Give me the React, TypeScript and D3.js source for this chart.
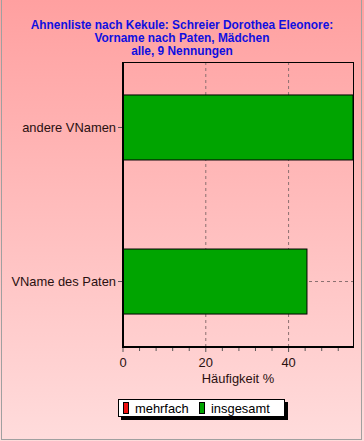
import React from "react";
import * as d3 from "d3";

const categories = ["andere VNamen", "VName des Paten"];
const insgesamt = [55.56, 44.44];
const mehrfach = [0, 0];
const majorTicks = [0, 20, 40];
const minorTicks = [4, 8, 12, 16, 24, 28, 32, 36, 44, 48, 52];
const titleLines = [
  "Ahnenliste nach Kekule: Schreier Dorothea Eleonore:",
  "Vorname nach Paten, Mädchen",
  "alle, 9 Nennungen",
];
const legendItems = [
  { label: "mehrfach", color: "#EE1111" },
  { label: "insgesamt", color: "#00A400" },
];

const W = 364;
const H = 441;
const L = 123, R = 353, T = 62, B = 347;

export default function App() {
  const x = d3.scaleLinear().domain([0, 55.56]).range([L, R]);
  const y = d3.scalePoint<string>().domain(categories).range([T, B]).padding(0.425);
  const barH = y.step() * 0.422;
  const font = "Arial, 'Liberation Sans', sans-serif";
  void mehrfach;
  return (
    <svg width={W} height={H} style={{ position: "absolute", left: 0, top: 0 }} fontFamily={font}>
      <defs>
        <linearGradient id="bg" x1="0" y1="0" x2="0" y2="1">
          <stop offset="0" stopColor="#FFA0A0" />
          <stop offset="1" stopColor="#FFDCDC" />
        </linearGradient>
      </defs>
      <rect x={0} y={0} width={W} height={H} fill="url(#bg)" />
      <line x1={1.5} x2={1.5} y1={0} y2={440} stroke="#A0A0A0" />
      <line x1={361.5} x2={361.5} y1={0} y2={440} stroke="#A0A0A0" />
      <line x1={1} x2={362} y1={439.5} y2={439.5} stroke="#A0A0A0" />

      {titleLines.map((t, i) => (
        <text key={i} x={182} y={28.5 + i * 13.2} textAnchor="middle" fontWeight="bold" fontSize={11.9} fill="#1010E0">
          {t}
        </text>
      ))}

      {/* grid */}
      {majorTicks.filter((v) => v > 0).map((v) => (
        <line key={v} x1={x(v)} x2={x(v)} y1={T} y2={B} stroke="#8A7070" strokeDasharray="3,3" />
      ))}
      {categories.map((c) => (
        <line key={c} x1={L} x2={R} y1={y(c)!} y2={y(c)!} stroke="#8A7070" strokeDasharray="3,3" />
      ))}

      {/* bars */}
      {categories.map((c, i) => (
        <rect key={c} x={x(0)} y={y(c)! - barH / 2} width={x(insgesamt[i]) - x(0)} height={barH}
          fill="#00A400" stroke="#000" strokeWidth={1} />
      ))}

      {/* frame */}
      <line x1={L} x2={R} y1={T + 0.5} y2={T + 0.5} stroke="#000" />
      <line x1={R + 0.5} x2={R + 0.5} y1={T} y2={B} stroke="#000" />
      <line x1={L} x2={L} y1={T} y2={B + 1} stroke="#000" strokeWidth={2} />
      <line x1={L - 1} x2={R + 1} y1={B} y2={B} stroke="#000" strokeWidth={2} />

      {/* y ticks and labels */}
      {categories.map((c) => (
        <g key={c}>
          <line x1={L - 5} x2={L - 1} y1={y(c)!} y2={y(c)!} stroke="#555" />
          <text x={L - 7} y={y(c)!} dy="0.35em" textAnchor="end" fontSize={12.9} fill="#2A1010">{c}</text>
        </g>
      ))}

      {/* x ticks */}
      {minorTicks.map((v) => (
        <line key={v} x1={x(v)} x2={x(v)} y1={B + 1} y2={B + 4} stroke="#555" />
      ))}
      {majorTicks.map((v) => (
        <g key={v}>
          <line x1={x(v)} x2={x(v)} y1={B + 1} y2={B + 5} stroke="#555" />
          <text x={x(v)} y={B + 20} textAnchor="middle" fontSize={12.9} fill="#2A1010">{v}</text>
        </g>
      ))}
      <text x={(L + R) / 2} y={382.5} textAnchor="middle" fontSize={12.9} fill="#2A1010">Häufigkeit %</text>

      {/* legend */}
      <rect x={121} y={402} width={167} height={18} fill="#000" />
      <rect x={118.5} y={399.5} width={166} height={17} fill="#fff" stroke="#000" />
      {legendItems.map((it, i) => {
        const lx = 123 + i * 76;
        return (
          <g key={it.label}>
            <rect x={lx + 0.5} y={402.5} width={5} height={11} fill={it.color} stroke="#000" />
            <text x={lx + 12} y={412.5} fontSize={12.9} fill="#000">{it.label}</text>
          </g>
        );
      })}
    </svg>
  );
}
